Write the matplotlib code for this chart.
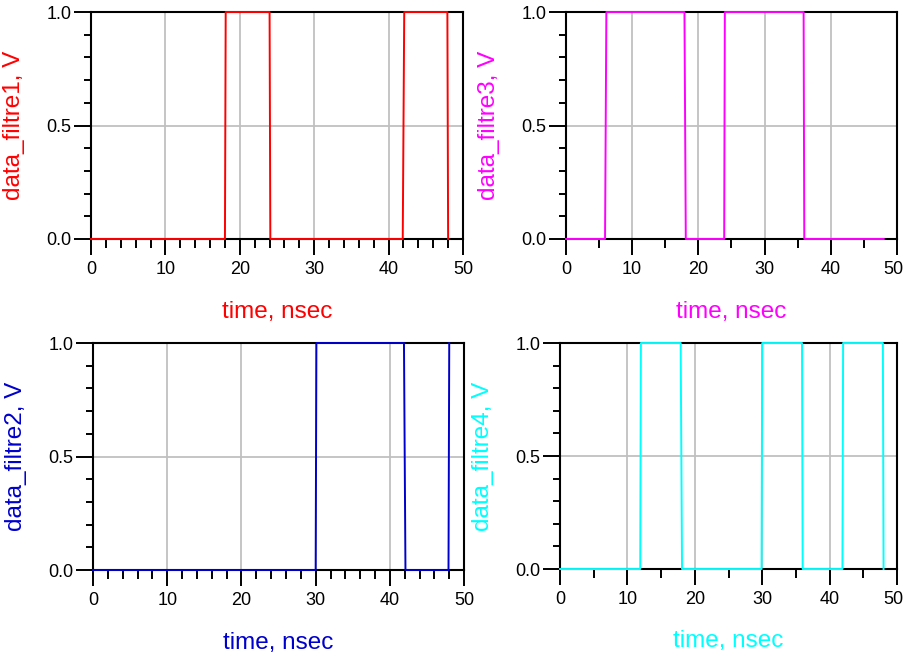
import matplotlib
matplotlib.use("Agg")
import matplotlib.pyplot as plt
import matplotlib.transforms as mtransforms
from matplotlib.ticker import MultipleLocator

plt.rcParams['font.family'] = ['Liberation Sans', 'DejaVu Sans']

# signal samples (time in nsec, level in V)
t_filtre1 = [0, 18.0, 18.1, 24.0, 24.1, 41.9, 42.1, 47.9, 48.0]
v_filtre1 = [0, 0, 1, 1, 0, 0, 1, 1, 0]

t_filtre3 = [0, 5.9, 6.1, 17.9, 18.1, 23.9, 24.0, 35.9, 36.0, 48.0]
v_filtre3 = [0, 0, 1, 1, 0, 0, 1, 1, 0, 0]

t_filtre2 = [0, 30.0, 30.1, 41.9, 42.1, 47.9, 48.0]
v_filtre2 = [0, 0, 1, 1, 0, 0, 1]

t_filtre4 = [0, 11.9, 12.0, 17.9, 18.1, 29.9, 30.0, 35.9, 36.0, 41.9, 42.0, 47.9, 48.0]
v_filtre4 = [0, 0, 1, 1, 0, 0, 1, 1, 0, 0, 1, 1, 0]

x_ticks = [0, 10, 20, 30, 40, 50]
y_ticks = [0.0, 0.5, 1.0]
y_ticklabels = ['0.0', '0.5', '1.0']
xlabel = 'time, nsec'

fig = plt.figure(figsize=(9.05, 6.53), dpi=100)

panels = [
    # rect, t, v, label, color, x minor step
    ([0.1006, 0.634, 0.411, 0.3476], t_filtre1, v_filtre1, 'data_filtre1, V', '#ff0000', 2),
    ([0.6254, 0.634, 0.3657, 0.3476], t_filtre3, v_filtre3, 'data_filtre3, V', '#ff00ff', 5),
    ([0.1028, 0.1271, 0.410, 0.3476], t_filtre2, v_filtre2, 'data_filtre2, V', '#0000cc', 2),
    ([0.6188, 0.1286, 0.3724, 0.3461], t_filtre4, v_filtre4, 'data_filtre4, V', '#00ffff', 5),
]

for i, (rect, t, v, label, color, minor) in enumerate(panels):
    ax = fig.add_axes(rect)
    ax.plot(t, v, color=color, lw=1.4, zorder=3, clip_on=False)
    ax.set_xlim(0, 50)
    ax.set_ylim(0, 1)
    ax.set_xticks(x_ticks)
    ax.set_yticks(y_ticks)
    ax.set_yticklabels(y_ticklabels)
    ax.xaxis.set_minor_locator(MultipleLocator(minor))
    ax.yaxis.set_minor_locator(MultipleLocator(0.1))
    ax.grid(True, which='major', color='#c0c0c0', lw=1.3)
    ax.tick_params(which='major', axis='x', direction='out', length=11.5, width=1.4,
                   labelsize=13, pad=4)
    ax.tick_params(which='minor', axis='x', direction='out', length=6.5, width=1.4)
    ax.tick_params(which='major', axis='y', direction='out', length=12, width=1.4,
                   labelsize=13, pad=2)
    ax.tick_params(which='minor', axis='y', direction='out', length=5, width=1.4)
    for s in ax.spines.values():
        s.set_linewidth(1.5)
        s.set_color('black')
    ax.set_xlabel(xlabel, color=color, fontsize=17.5, va='center')
    ax.xaxis.set_label_coords(0.5, -0.32)
    ax.set_ylabel(label, color=color, fontsize=17.5, va='center')
    ax.yaxis.set_label_coords(-77 / (rect[2] * 905), 0.5)
    if i % 2 == 1:
        # keep the last "50" inside the figure edge
        last = ax.get_xticklabels()[-1]
        last.set_transform(last.get_transform() +
                           mtransforms.ScaledTranslation(-4 / 100, 0, fig.dpi_scale_trans))

fig.savefig('out.png', dpi=100)
